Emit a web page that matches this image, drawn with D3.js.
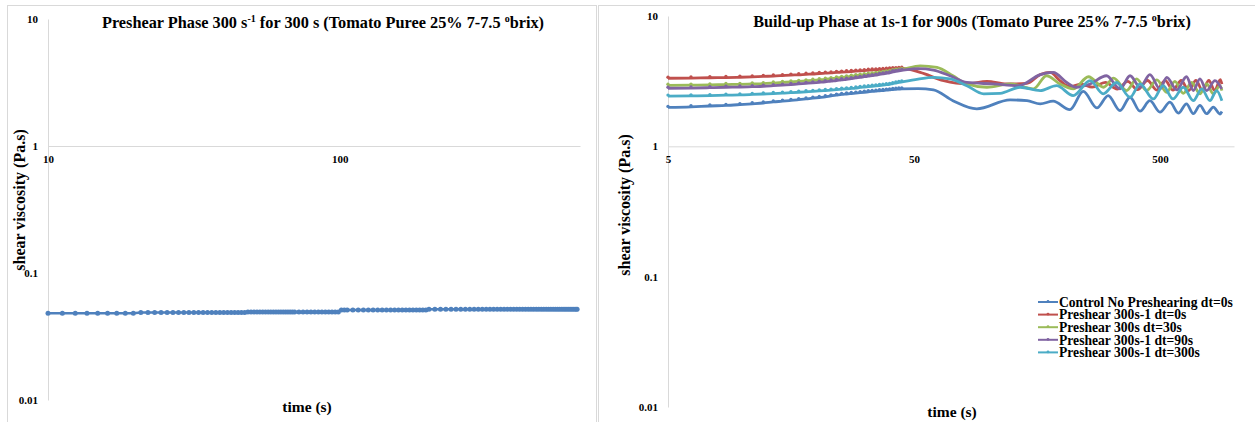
<!DOCTYPE html>
<html>
<head>
<meta charset="utf-8">
<script src="https://cdn.jsdelivr.net/npm/d3@7"></script>
<style>
  body { margin: 0; background: #fff; }
  svg text { font-family: "Liberation Serif", "Times New Roman", serif; font-weight: bold; fill: #000; }
</style>
</head>
<body>
<svg id="chart" width="1255" height="422"></svg>
<script>
// ---- left panel: preshear phase (time in s, viscosity in Pa.s) ----
const preshearTime = [
  10, 11.2, 12.4, 13.6, 14.8, 16, 17.2, 18.4, 19.6, 20.8, 22, 23.2, 24.4, 25.6, 26.8, 28,
  29.2, 30.4, 31.6, 32.8, 34, 35.2, 36.4, 37.6, 38.8, 40, 41.2, 42.4, 43.6, 44.8, 46, 47.2,
  48.4, 49.6, 50.8, 52, 53.2, 54.4, 55.6, 56.8, 58, 59.2, 60.4, 61.6, 62.8, 64, 65.2, 66.4,
  67.6, 68.8, 70, 72.4, 74.8, 77.2, 79.6, 82, 84.4, 86.8, 89.2, 91.6, 94, 96.4, 98.8, 101.2,
  103.6, 106, 110.8, 115.6, 120.4, 125.2, 130, 134.8, 139.6, 144.4, 149.2, 154, 158.8, 163.6,
  168.4, 173.2, 178, 182.8, 187.6, 192.4, 197.2, 202, 211.6, 221.2, 230.8, 240.4, 250, 259.6,
  269.2, 278.8, 288.4, 298, 307.6, 317.2, 326.8, 336.4, 346, 355.6, 365.2, 374.8, 384.4, 394,
  403.6, 413.2, 422.8, 432.4, 442, 451.6, 461.2, 470.8, 480.4, 490, 499.6, 509.2, 518.8, 528.4,
  538, 547.6, 557.2, 566.8, 576.4, 586, 595.6, 605.2, 614.8, 624.4, 634, 643.6, 650
];
const preshearLevels = [[10, 0.0482], [20.3, 0.0489], [48, 0.0494], [100, 0.0511], [202, 0.0518]];

// ---- right panel: build-up phase ----
const seriesNames = [
  'Control No Preshearing dt=0s',
  'Preshear 300s-1 dt=0s',
  'Preshear 300s dt=30s',
  'Preshear 300s-1 dt=90s',
  'Preshear 300s-1 dt=300s'
];
const seriesColors = ['#4f81bd', '#c0504d', '#9bbb59', '#8064a2', '#4bacc6'];

const buildupEarlyTime = [
  5, 6.2, 7.4, 8.6, 9.8, 11, 12.2, 13.4, 14.6, 15.8, 17, 18.2, 19.4, 20.6, 21.8, 23, 24.2,
  25.4, 26.6, 27.8, 29, 30.2, 31.4, 32.6, 33.8, 35, 36.2, 37.4, 38.6, 39.8, 41, 42.2, 43.4, 44.6
];
const controlEarly = [1.99, 2.01, 2.04, 2.06, 2.09, 2.12, 2.15, 2.19, 2.22, 2.25, 2.28, 2.31, 2.34, 2.37, 2.40, 2.44, 2.47, 2.50, 2.52, 2.54, 2.56, 2.58, 2.60, 2.62, 2.64, 2.65, 2.67, 2.68, 2.70, 2.71, 2.73, 2.74, 2.75, 2.76];
const dt0Early = [3.33, 3.34, 3.36, 3.37, 3.39, 3.41, 3.44, 3.46, 3.49, 3.52, 3.54, 3.57, 3.59, 3.62, 3.64, 3.66, 3.69, 3.71, 3.73, 3.75, 3.77, 3.79, 3.81, 3.83, 3.85, 3.86, 3.88, 3.89, 3.91, 3.92, 3.94, 3.95, 3.96, 3.97];
const dt30Early = [2.94, 2.95, 2.96, 2.98, 2.99, 3.01, 3.03, 3.06, 3.09, 3.12, 3.15, 3.18, 3.21, 3.24, 3.27, 3.31, 3.34, 3.38, 3.41, 3.45, 3.48, 3.51, 3.54, 3.57, 3.60, 3.63, 3.66, 3.69, 3.72, 3.75, 3.80, 3.83, 3.86, 3.89];
const dt90Early = [2.79, 2.80, 2.82, 2.84, 2.85, 2.87, 2.89, 2.92, 2.95, 2.98, 3.01, 3.04, 3.07, 3.10, 3.13, 3.17, 3.20, 3.24, 3.27, 3.31, 3.35, 3.38, 3.42, 3.45, 3.49, 3.52, 3.56, 3.59, 3.63, 3.66, 3.73, 3.76, 3.79, 3.82];
const dt300Early = [2.43, 2.44, 2.45, 2.47, 2.48, 2.50, 2.52, 2.54, 2.56, 2.58, 2.60, 2.62, 2.64, 2.66, 2.68, 2.70, 2.72, 2.74, 2.76, 2.78, 2.80, 2.83, 2.85, 2.87, 2.89, 2.91, 2.93, 2.95, 2.97, 2.99, 3.03, 3.06, 3.09, 3.12];

// later part: [time, viscosity] at the turning points of the oscillation
const controlLate = [[52, 2.77], [60, 2.71], [72, 2.24], [90, 1.94], [123, 2.27], [144, 2.24], [163, 2.12], [184, 2.22], [215, 1.91], [244, 2.64], [277, 1.97], [308, 2.45], [344, 1.88], [378, 2.38], [415, 1.86], [455, 2.24], [500, 1.83], [549, 2.18], [594, 1.80], [641, 2.12], [683, 1.78], [727, 2.06], [774, 1.78], [824, 2.0], [877, 1.77], [893, 1.85]];
const dt0Late = [[53, 3.69], [66, 3.19], [82, 3.01], [99, 3.15], [119, 3.01], [144, 3.04], [163, 3.55], [179, 3.69], [196, 3.19], [215, 2.87], [240, 3.0], [265, 2.85], [300, 3.1], [335, 2.75], [370, 3.15], [405, 2.72], [445, 3.2], [485, 2.7], [525, 3.2], [565, 2.7], [610, 3.2], [655, 2.68], [700, 3.2], [745, 2.68], [790, 3.2], [835, 2.68], [880, 3.25], [893, 3.0]];
const dt30Late = [[53, 4.15], [62, 4.03], [72, 3.48], [82, 3.01], [99, 2.84], [123, 3.01], [153, 2.76], [173, 3.48], [196, 3.01], [222, 2.76], [256, 3.42], [295, 2.84], [324, 3.34], [366, 2.68], [402, 3.29], [441, 2.68], [486, 3.23], [532, 2.60], [575, 3.15], [622, 2.55], [673, 3.09], [727, 2.53], [774, 3.01], [824, 2.53], [877, 2.92], [893, 2.68]];
const dt90Late = [[52, 3.95], [60, 3.85], [70, 3.48], [82, 3.09], [105, 3.01], [133, 2.92], [163, 3.55], [184, 3.69], [209, 3.09], [228, 2.84], [260, 3.01], [303, 3.48], [344, 2.76], [378, 3.48], [415, 2.84], [455, 3.55], [500, 2.76], [533, 3.38], [585, 2.71], [641, 3.42], [683, 2.68], [727, 3.29], [774, 2.68], [837, 3.19], [891, 2.76]];
const dt300Late = [[52, 3.28], [60, 3.38], [70, 3.29], [82, 2.92], [96, 2.53], [112, 2.55], [135, 2.84], [163, 2.68], [190, 2.92], [222, 2.45], [260, 3.19], [294, 2.53], [333, 3.09], [378, 2.38], [415, 3.01], [470, 2.31], [515, 2.92], [565, 2.31], [622, 2.84], [683, 2.24], [739, 2.76], [798, 2.24], [850, 2.68], [893, 2.24]];

const yTicks = [0.01, 0.1, 1, 10];

const svg = d3.select('#chart');
const grey = '#d9d9d9';

// panel frames
svg.append('rect').attr('x', 7.5).attr('y', 5.5).attr('width', 589).attr('height', 430)
  .attr('fill', 'none').attr('stroke', grey);
svg.append('rect').attr('x', 598.5).attr('y', 5.5).attr('width', 670).attr('height', 430)
  .attr('fill', 'none').attr('stroke', grey);

function drawAxes(x, y, xTicks, opts) {
  const g = svg.append('g');

  g.append('g')
    .attr('transform', `translate(${x.range()[0]},0)`)
    .call(d3.axisLeft(y).tickValues(yTicks).tickFormat(d3.format('~g'))
      .tickSize(0).tickSizeOuter(0).tickPadding(10))
    .call(a => a.select('.domain').attr('stroke', grey))
    .call(a => a.selectAll('text').attr('font-size', 11).attr('font-family', null));

  g.append('g')
    .attr('transform', `translate(0,${y(1)})`)
    .call(d3.axisBottom(x).tickValues(xTicks).tickFormat(d3.format('~g'))
      .tickSize(0).tickSizeOuter(0).tickPadding(9))
    .call(a => a.select('.domain').attr('stroke', grey))
    .call(a => a.selectAll('text').attr('font-size', 11).attr('font-family', null));

  g.selectAll('g').attr('font-family', null).attr('font-size', null);

  g.append('text')
    .attr('transform', `translate(${opts.yTitleX},${opts.yTitleY}) rotate(-90)`)
    .attr('text-anchor', 'middle')
    .attr('font-size', 16)
    .text('shear viscosity (Pa.s)');

  g.append('text')
    .attr('x', opts.xTitleX).attr('y', opts.xTitleY)
    .attr('text-anchor', 'middle')
    .attr('font-size', 15.5)
    .text('time (s)');
}

function addDegreeBrix(t) {
  t.append('tspan').text(' ');
  t.append('tspan').attr('font-size', 10).attr('dy', -6).text('o');
  t.append('tspan').attr('dy', 6).text('brix)');
}

// ---- left chart ----
const xL = d3.scaleLog().domain([10, 665]).range([48, 580]);
const yL = d3.scaleLog().domain([0.01, 10]).range([400, 19]);
drawAxes(xL, yL, [10, 100], { yTitleX: 25, yTitleY: 200, xTitleX: 307, xTitleY: 412 });

const leftTitle = svg.append('text').attr('x', 323).attr('y', 28)
  .attr('text-anchor', 'middle').attr('font-size', 16.3);
leftTitle.append('tspan').text('Preshear Phase 300 s');
leftTitle.append('tspan').attr('font-size', 10).attr('dy', -6).text('-1');
leftTitle.append('tspan').attr('dy', 6).text(' for 300 s (Tomato Puree 25% 7-7.5');
addDegreeBrix(leftTitle);

const preshear = preshearTime.map(t => {
  const level = preshearLevels.filter(l => l[0] <= t).pop();
  return [t, level[1]];
});

svg.append('path')
  .datum(preshear)
  .attr('fill', 'none')
  .attr('stroke', seriesColors[0])
  .attr('stroke-width', 2.5)
  .attr('d', d3.line().x(d => xL(d[0])).y(d => yL(d[1])));

svg.append('g').selectAll('circle')
  .data(preshear)
  .join('circle')
  .attr('cx', d => xL(d[0]))
  .attr('cy', d => yL(d[1]))
  .attr('r', 2.5)
  .attr('fill', seriesColors[0]);

// ---- right chart ----
const xR = d3.scaleLog().domain([5, 1000]).range([668, 1234]);
const yR = d3.scaleLog().domain([0.01, 10]).range([407, 16]);
drawAxes(xR, yR, [5, 50, 500], { yTitleX: 630, yTitleY: 205, xTitleX: 952, xTitleY: 417 });

const rightTitle = svg.append('text').attr('x', 972).attr('y', 27)
  .attr('text-anchor', 'middle').attr('font-size', 16.2);
rightTitle.append('tspan').text('Build-up Phase at 1s-1 for 900s (Tomato Puree 25% 7-7.5');
addDegreeBrix(rightTitle);

const earlyValues = [controlEarly, dt0Early, dt30Early, dt90Early, dt300Early];
const lateValues = [controlLate, dt0Late, dt30Late, dt90Late, dt300Late];

const series = seriesNames.map((name, i) => ({
  name,
  color: seriesColors[i],
  early: buildupEarlyTime.map((t, j) => [t, earlyValues[i][j]]),
  late: lateValues[i]
}));

const lineR = d3.line()
  .x(d => xR(d[0]))
  .y(d => yR(d[1]))
  .curve(d3.curveMonotoneX);

const sg = svg.append('g').selectAll('g')
  .data(series)
  .join('g');

sg.append('path')
  .attr('fill', 'none')
  .attr('stroke', d => d.color)
  .attr('stroke-width', 2.8)
  .attr('d', d => lineR(d.early.concat(d.late)));

sg.selectAll('circle')
  .data(d => d.early.map(p => ({ p, color: d.color })))
  .join('circle')
  .attr('cx', d => xR(d.p[0]))
  .attr('cy', d => yR(d.p[1]) - 1)
  .attr('r', 1.7)
  .attr('fill', d => d.color);

// legend
const legend = svg.append('g').attr('transform', 'translate(1038,302)');
const item = legend.selectAll('g')
  .data(series)
  .join('g')
  .attr('transform', (d, i) => `translate(0,${i * 12.6})`);

item.append('line')
  .attr('x1', 0).attr('x2', 20)
  .attr('stroke', d => d.color)
  .attr('stroke-width', 2);
item.append('circle')
  .attr('cx', 10).attr('cy', -0.5).attr('r', 1.4)
  .attr('fill', d => d.color);
item.append('text')
  .attr('x', 21).attr('dy', '0.35em')
  .attr('font-size', 13.6)
  .text(d => d.name);
</script>
</body>
</html>
